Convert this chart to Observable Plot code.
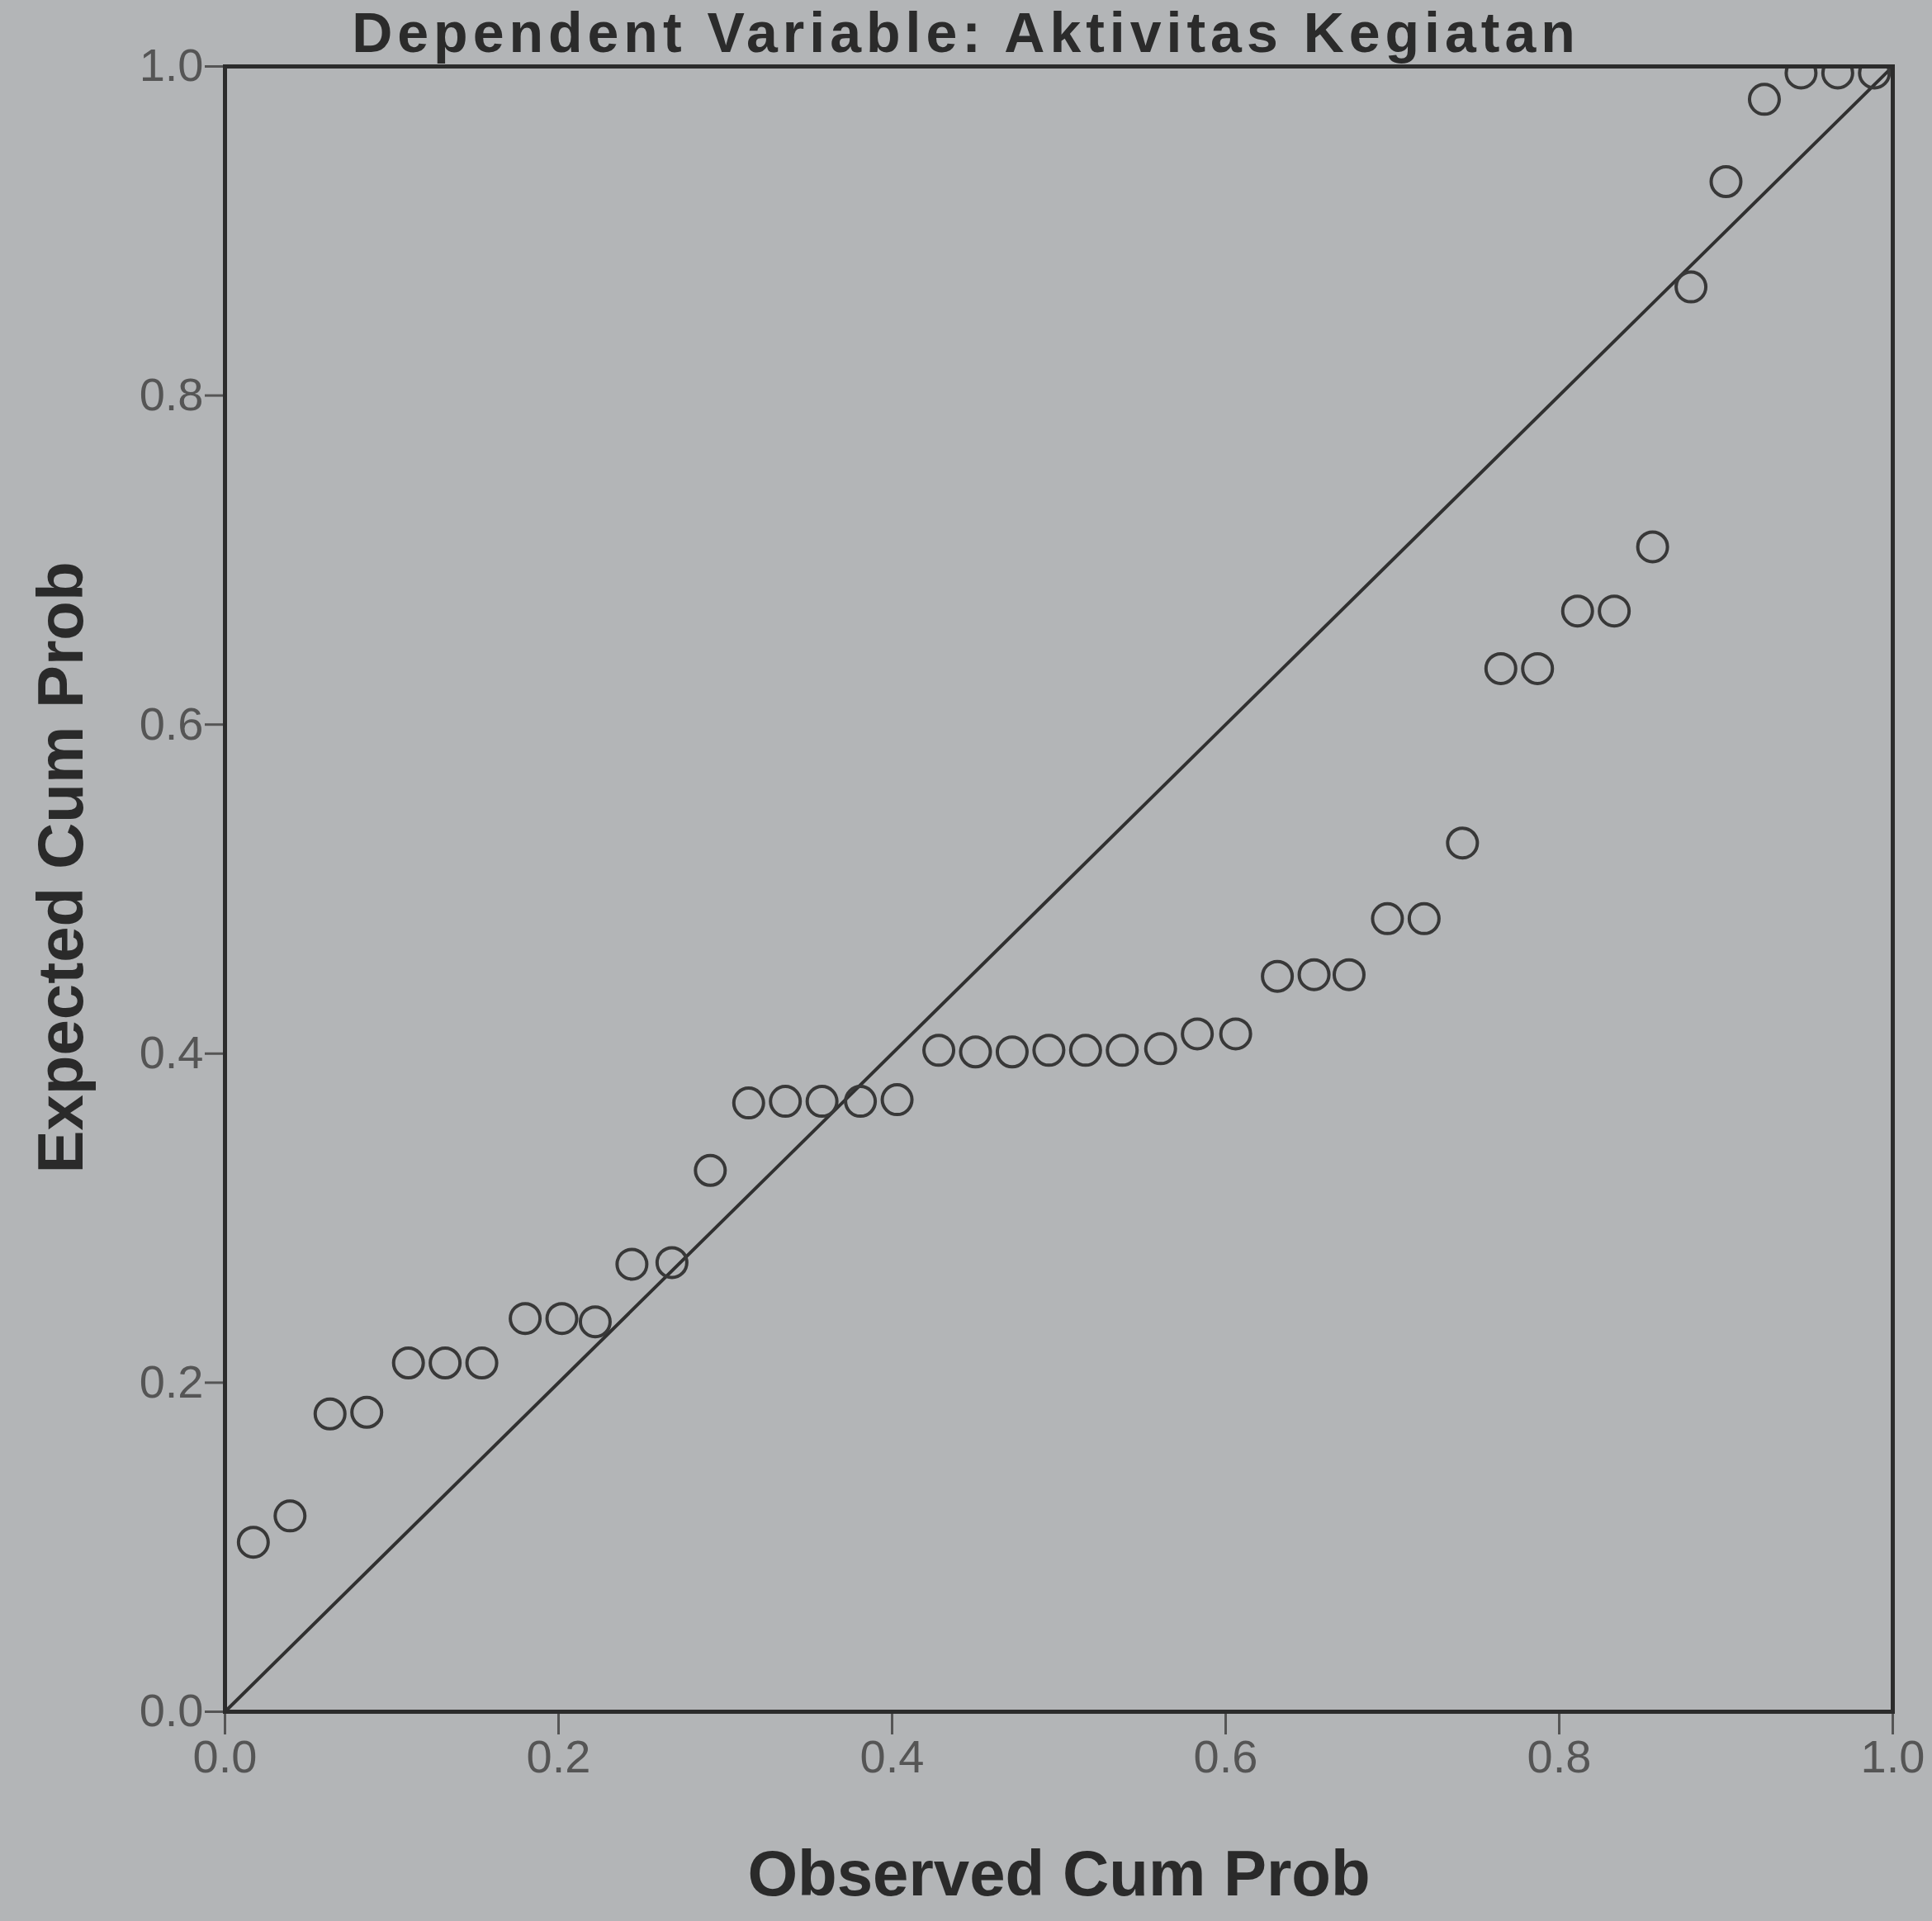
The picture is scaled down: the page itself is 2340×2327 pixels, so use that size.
<!DOCTYPE html>
<html>
<head>
<meta charset="utf-8">
<script src="https://cdn.jsdelivr.net/npm/d3@7"></script>
<script src="https://cdn.jsdelivr.net/npm/@observablehq/plot@0.6"></script>
<style>
  html, body { margin: 0; padding: 0; background: #b3b5b7; }
  #title { position: relative; width: 2340px; height: 60px; overflow: visible; }
  #title div { position: absolute; left: 0; top: 5px; width: 2340px; text-align: center;
    font-family: "Liberation Sans", Arial, sans-serif; font-weight: bold; font-size: 68px;
    letter-spacing: 6px; line-height: 68px; color: #2b2b2b; white-space: nowrap; }
  #chart { position: relative; z-index: 1; }
</style>
</head>
<body>
<div id="title"><div>Dependent Variable: Aktivitas Kegiatan</div></div>
<div id="chart"></div>
<script>
const observedCumProb = [0.017,0.039,0.063,0.085,0.110,0.132,0.154,0.180,0.202,0.222,0.244,0.268,0.291,0.314,0.336,0.358,0.381,0.403,0.428,0.450,0.472,0.494,0.516,0.538,0.561,0.583,0.606,0.631,0.653,0.674,0.697,0.719,0.742,0.765,0.787,0.811,0.833,0.856,0.879,0.900,0.923,0.945,0.967,0.989];
const expectedCumProb = [0.103,0.119,0.181,0.182,0.212,0.212,0.212,0.239,0.239,0.237,0.272,0.273,0.329,0.370,0.371,0.371,0.371,0.372,0.402,0.401,0.401,0.402,0.402,0.402,0.403,0.412,0.412,0.447,0.448,0.448,0.482,0.482,0.528,0.634,0.634,0.669,0.669,0.708,0.866,0.930,0.980,0.996,0.996,0.996];
const xTicks = [0, 0.2, 0.4, 0.6, 0.8, 1.0];
const yTicks = [0, 0.2, 0.4, 0.6, 0.8, 1.0];
const refLine = [0, 1];
const xTitle = "Observed Cum Prob";
const yTitle = "Expected Cum Prob";

const points = observedCumProb.map((x, i) => ({x, y: expectedCumProb[i]}));
const diag = refLine.map(v => ({x: v, y: v}));

const chart = Plot.plot({
  width: 2340,
  height: 2267,
  marginTop: 20,
  marginBottom: 254,
  marginLeft: 272,
  marginRight: 48,
  style: {background: "transparent", overflow: "visible", fontFamily: "'Liberation Sans', Arial, sans-serif", color: "#555"},
  x: {domain: [0, 1]},
  y: {domain: [0, 1]},
  marks: [
    Plot.axisX({ticks: xTicks, tickFormat: d3.format(".1f"), tickSize: 28, tickPadding: 6, fontSize: 56, label: null, strokeWidth: 3}),
    Plot.axisY({ticks: yTicks, tickFormat: d3.format(".1f"), tickSize: 24, tickPadding: 2, fontSize: 56, label: null, strokeWidth: 3}),
    Plot.line(diag, {x: "x", y: "y", stroke: "#303030", strokeWidth: 4}),
    Plot.dot(points, {x: "x", y: "y", r: 18, stroke: "#383838", strokeWidth: 4, fill: "none", clip: true}),
    Plot.frame({stroke: "#2c2c2c", strokeWidth: 5}),
    Plot.text([xTitle], {text: d => d, frameAnchor: "bottom", dy: 198, fontSize: 78, fontWeight: "bold", fill: "#2a2a2a", lineAnchor: "middle", textAnchor: "middle"}),
    Plot.text([yTitle], {text: d => d, frameAnchor: "left", dx: -197, dy: -26, rotate: -90, fontSize: 78, fontWeight: "bold", fill: "#2a2a2a", lineAnchor: "middle", textAnchor: "middle"})
  ]
});
document.getElementById("chart").appendChild(chart);
</script>
</body>
</html>
